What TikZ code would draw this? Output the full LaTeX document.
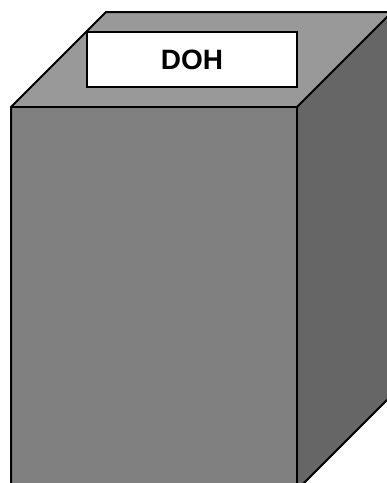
\documentclass[tikz,border=0pt]{standalone}
\usepackage{fontspec}
\setmainfont{Liberation Sans}
\begin{document}
\begin{tikzpicture}[x=1pt,y=-1pt,
  edge/.style={draw=black,line width=2pt,line join=miter},
  labelbox/.style={draw=black,line width=1.2pt,fill=white,inner sep=0pt,minimum width=210pt,minimum height=55pt,font=\bfseries\fontsize{28}{30}\selectfont}]
\useasboundingbox (0,0) rectangle (387,483);
\clip (0,0) rectangle (387,483);
\coordinate (ftl) at (11,107);
\coordinate (ftr) at (297,107);
\coordinate (fbl) at (11,490);
\coordinate (fbr) at (297,490);
\coordinate (btl) at (106,12);
\coordinate (btr) at (392,12);
\coordinate (bbr) at (392,395);
\fill[fill=gray!80!white, fill={rgb,255:red,153;green,153;blue,153}] (ftl) -- (btl) -- (btr) -- (ftr) -- cycle;
\fill[fill={rgb,255:red,128;green,128;blue,128}] (ftl) rectangle (fbr);
\fill[fill={rgb,255:red,102;green,102;blue,102}] (ftr) -- (btr) -- (bbr) -- (fbr) -- cycle;
\draw[edge] (fbl) -- (ftl) -- (btl) -- (btr);
\draw[edge] (ftl) -- (ftr) -- (fbr);
\draw[edge] (ftr) -- (btr);
\draw[edge] (fbr) -- (bbr);
\node[labelbox] (doh) at (192,59.5) {DOH};
\end{tikzpicture}
\end{document}
